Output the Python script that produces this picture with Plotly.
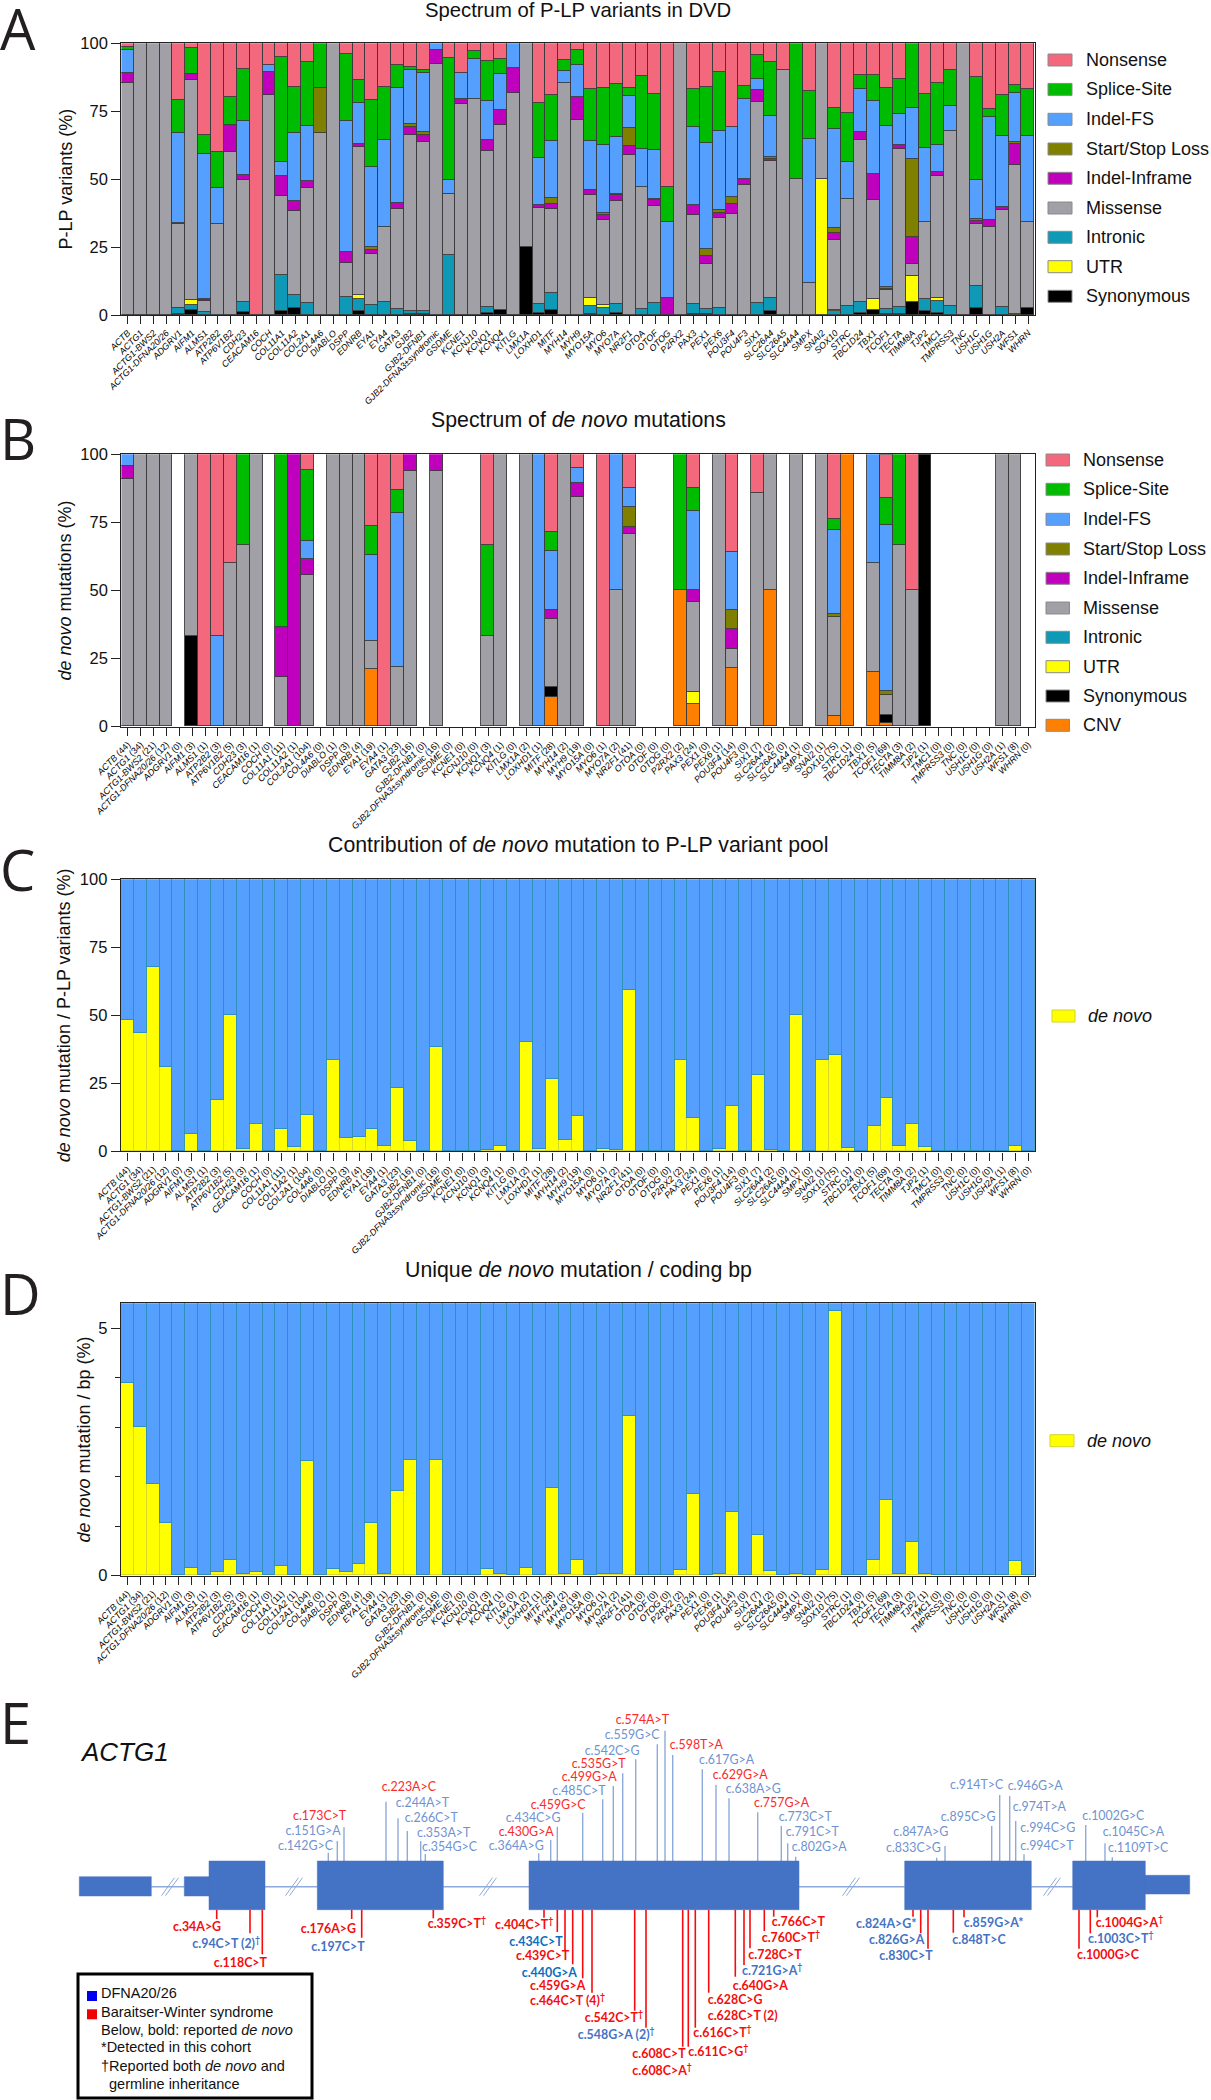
import plotly.graph_objects as go

W, H = 1211, 2100

GENES = ["ACTB","ACTG1","ACTG1-BWS2","ACTG1-DFNA20/26","ADGRV1","AIFM1","ALMS1","ATP2B2","ATP6V1B2","CDH23",
 "CEACAM16","COCH","COL11A1","COL11A2","COL2A1","COL4A6","DIABLO","DSPP","EDNRB","EYA1",
 "EYA4","GATA3","GJB2","GJB2-DFNB1","GJB2-DFNA3±syndromic","GSDME","KCNE1","KCNJ10","KCNQ1","KCNQ4",
 "KITLG","LMX1A","LOXHD1","MITF","MYH14","MYH9","MYO15A","MYO6","MYO7A","NR2F1",
 "OTOA","OTOF","OTOG","P2RX2","PAX3","PEX1","PEX6","POU3F4","POU4F3","SIX1",
 "SLC26A4","SLC26A5","SLC44A4","SMPX","SNAI2","SOX10","STRC","TBC1D24","TBX1","TCOF1",
 "TECTA","TIMM8A","TJP2","TMC1","TMPRSS3","TNC","USH1C","USH1G","USH2A","WFS1","WHRN"]
DN_COUNTS = [44,34,21,12,0,3,1,3,5,3, 1,0,11,1,104,0,1,3,4,19, 1,23,16,0,16,0,0,0,3,1,
 0,2,1,28,2,19,0,1,2,41, 0,0,0,2,24,0,1,14,0,7, 2,0,1,0,1,75,1,0,5,69, 3,2,1,0,0,0,0,0,1,8,0]

# Panel A: share of P-LP variants (%)
A_SYNONYMOUS = [0,0,0,0,.4,1.8,0,0,0,1, 0,0,1.2,2.3,0,0,0,0,1.2,0, 0,0,.3,.3,0,0,0,0,.5,1.8,
 0,25,.5,1.8,0,0,.3,0,.6,0, 0,0,0,0,.3,.3,0,0,0,0, 1.2,0,0,0,0,0,0,.8,1.8,.2, .3,4.5,1.2,.5,0,0,2.5,0,0,0,2.4]
A_INTRONIC = [0,0,0,0,2,1.9,1,0,0,3.6, 0,0,13.4,4.9,4.2,0,0,6.7,4.7,3.4, 4.8,2,.9,1.2,0,22,0,0,2.3,0,
 0,0,3.4,6.1,0,0,3,2.5,3.2,0, 2,4.4,0,0,3.5,1.8,2.5,0,0,4.2, 4.9,0,0,0,0,1.2,3.2,3.9,0,1.9, 2.6,0,4.4,4.5,3.2,0,8.1,0,2.8,0,0]
A_UTR = [0,0,0,0,0,1.8,0,0,0,0, 0,0,0,0,0,0,0,0,1.2,0, 0,0,0,0,0,0,0,0,0,0,
 0,0,0,0,0,0,2.7,.9,0,0, 0,0,0,0,0,0,0,0,0,0, 0,0,0,0,50,.6,0,0,3.8,0, 0,9.6,0,1,0,0,0,0,0,.3,0]
A_MISSENSE = [85.3,100,100,100,31.1,81,4,33.3,60,45.1, 0,81,29.2,30.8,42.5,66.7,100,12.3,54.6,18.8,
 27.3,37,64.9,62.1,92.4,22.4,77.7,79.3,57.3,67.9, 81.7,75,35.5,31,85.3,71.5,38.2,31.3,37.9,58.9,
 44.9,35.6,0,100,33,16.6,33.2,36.9,47.7,74.1, 50.3,90,50,11.7,50,25.8,39.4,59.5,36.5,7.1,
 58.2,4.7,28.6,44.9,64.4,100,22.9,32.1,35.6,54.7,31.8]
A_INFRAME = [3.7,0,0,0,.3,2.2,.3,0,10,1.7, 0,8.2,7.1,3.8,2.5,0,0,4.2,1.2,1.7, 0,2.1,2.9,2.7,5.1,0,1.7,0,4.3,5.8,
 9.1,0,1.1,2,0,8.6,1.6,2,2.3,3.3, 0,2.1,6,0,3.6,2.9,1.8,3.8,2.2,4.3, 1,0,0,0,0,2.4,0,3,9.8,.4,
 1.4,9.7,0,1.7,0,0,1,2.9,1.4,7.8,0]
A_STARTSTOP = [0,0,0,0,0,0,.5,0,0,0, 0,0,0,0,0,16.7,0,0,0,1, 0,0,1.2,1.1,0,0,0,0,0,0,
 0,0,0,1.9,0,0,0,.8,.5,6.5, 0,.6,0,0,0,2.6,.9,2.5,0,0, .6,0,0,0,0,2,0,0,0,.6, 0,28.7,0,0,0,0,.6,0,0,.8,0]
A_FS = [8.5,0,0,0,33,0,53.2,13.2,0,20, 0,2.7,5.3,24.9,20.4,0,0,48,14.9,29.3, 32.3,42.3,19.7,21.6,2.5,5.3,9.6,14.8,14.1,13.1,
 9.2,0,17,21,4.3,11.8,18.1,24.8,21,11.7, 14.2,17.9,28.2,0,28.6,38.9,29.1,25.8,29.5,4.3,
 15,0,0,53,0,36.2,13.5,15.8,26.9,59.2, 11.2,18.9,27.1,9.9,9.1,0,14.3,37.9,26.1,18,31.4]
A_SPLICE = [1,0,0,0,12.2,9.3,7,13.5,10,19.1, 0,0,38.6,17.2,23.4,16.6,0,24.8,8.6,24.7, 19.4,8.5,1.3,1.2,0,44.8,0,2.8,14.8,5.6,
 0,0,20.3,17.1,4.1,5.4,19.1,21.1,19.3,3.2, 26.6,20.5,12.8,0,14,20.6,21.8,0,4.6,8.7,
 20,0,50,17.6,0,7.8,18,5.1,9.4,14.2, 13.2,23.9,20,22.9,13.2,0,38.1,2.8,14.8,2.8,17.3]
A_NONSENSE = [1.5,0,0,0,21,2,34,40,20,9.5, 100,8.1,5.2,16.1,7,0,0,4,13.6,21.1, 16.2,8.1,8.8,9.8,0,5.5,11,3.1,6.7,5.8,
 0,0,22.2,19.1,6.3,2.7,17,16.6,15.2,16.4, 12.3,18.9,53,0,17,16.3,10.7,31,16,4.4,
 7,10,0,17.7,0,24,25.9,11.9,11.8,16.4, 13.1,0,18.7,14.6,10.1,0,12.5,24.3,19.3,15.6,17.1]

# Panel B: share of de novo mutations (%)
B_CNV = [0,0,0,0,0,0,0,0,0,0, 0,0,0,0,0,0,0,0,0,21, 0,0,0,0,0,0,0,0,0,0,
 0,0,0,10.7,0,0,0,0,0,0, 0,0,0,50,8.3,0,0,21.4,0,0, 50,0,0,0,0,4,100,0,20,1.4, 0,0,0,0,0,0,0,0,0,0,0]
B_SYNONYMOUS = [0,0,0,0,0,33.3,0,0,0,0, 0,0,0,0,0,0,0,0,0,0, 0,0,0,0,0,0,0,0,0,0,
 0,0,0,3.6,0,0,0,0,0,0, 0,0,0,0,0,0,0,0,0,0, 0,0,0,0,0,0,0,0,0,2.9, 0,0,100,0,0,0,0,0,0,0,0]
B_INTRONIC = [0] * 71
B_UTR = [0,0,0,0,0,0,0,0,0,0, 0,0,0,0,0,0,0,0,0,0, 0,0,0,0,0,0,0,0,0,0,
 0,0,0,0,0,0,0,0,0,0, 0,0,0,0,4.2,0,0,0,0,0, 0,0,0,0,0,0,0,0,0,0, 0,0,0,0,0,0,0,0,0,0,0]
B_MISSENSE = [90.9,100,100,100,0,66.7,0,0,60,66.7, 100,0,18.2,0,55.6,0,100,100,100,10.5, 0,21.7,93.75,0,93.75,0,0,0,33.3,100,
 0,100,0,25,100,84.2,0,0,50,70.7, 0,0,0,0,33.3,0,100,7.1,0,85.7, 50,0,100,0,100,36,0,0,40,7.2, 66.7,50,0,0,0,0,0,0,100,100,0]
B_INFRAME = [4.55,0,0,0,0,0,0,0,0,0, 0,0,18.2,100,5.8,0,0,0,0,0, 0,0,6.25,0,6.25,0,0,0,0,0,
 0,0,0,3.6,0,5.3,0,0,0,2.4, 0,0,0,0,4.2,0,0,7.1,0,0, 0,0,0,0,0,0,0,0,0,0, 0,0,0,0,0,0,0,0,0,0,0]
B_STARTSTOP = [0,0,0,0,0,0,0,0,0,0, 0,0,0,0,0,0,0,0,0,0, 0,0,0,0,0,0,0,0,0,0,
 0,0,0,0,0,0,0,0,0,7.3, 0,0,0,0,0,0,0,7.1,0,0, 0,0,0,0,0,1.3,0,0,0,1.4, 0,0,0,0,0,0,0,0,0,0,0]
B_FS = [4.55,0,0,0,0,0,0,33.3,0,0, 0,0,0,0,6.5,0,0,0,0,31.6, 0,56.5,0,0,0,0,0,0,0,0,
 0,0,100,21.4,0,5.3,0,0,50,7.3, 0,0,0,0,29.2,0,0,21.4,0,0, 0,0,0,0,0,30.7,0,0,40,60.9, 0,0,0,0,0,0,0,0,0,0,0]
B_SPLICE = [0,0,0,0,0,0,0,0,0,33.3, 0,0,63.6,0,26.1,0,0,0,0,10.5, 0,8.7,0,0,0,0,0,0,33.3,0,
 0,0,0,7.1,0,0,0,0,0,0, 0,0,0,50,8.3,0,0,0,0,0, 0,0,0,0,0,4,0,0,0,10.1, 33.3,0,0,0,0,0,0,0,0,0,0]
B_NONSENSE = [0,0,0,0,0,0,100,66.7,40,0, 0,0,0,0,6,0,0,0,0,26.4, 100,13.1,0,0,0,0,0,0,33.4,0,
 0,0,0,28.6,0,5.2,0,100,0,12.3, 0,0,0,0,12.5,0,0,35.9,0,14.3, 0,0,0,0,0,24,0,0,0,15.9, 0,50,0,0,0,0,0,0,0,0,0]

# Panel C: de novo mutations as a share of the P-LP pool (%)
C_DE_NOVO = [48.3,43.5,67.6,30.8,0,6.1,0,18.75,50,.7, 9.9,0,8.1,1.3,13.2,0,33.3,4.9,5.1,8.1, 1.7,23,3.7,0,38.1,0,0,0,.5,2,
 0,40,.7,26.6,4.2,12.7,0,.7,.2,59.3, 0,0,0,33.3,12.3,0,.6,16.4,0,27.8, .2,0,50,0,33.3,35.4,1.1,0,9.3,19.4, 1.7,9.8,1.3,0,0,0,0,0,0,2,0]
C_TOTAL = 100

# Panel D: unique de novo mutations per coding bp (%)
D_DE_NOVO = [3.89,3.0,1.85,1.05,0,.15,0,.07,.32,.03, .07,0,.2,.01,2.32,0,.12,.07,.24,1.06, .03,1.71,2.34,0,2.34,0,0,0,.135,.03,
 0,.155,.01,1.76,.03,.31,0,.02,.02,3.22, 0,0,0,.115,1.65,0,.02,1.28,0,.81, .08,0,.03,0,.11,5.35,.005,0,.32,1.53, .03,.67,.02,0,0,0,0,0,0,.29,0]
D_YMAX = 5.51

LEGEND_A = ["Nonsense","Splice-Site","Indel-FS","Start/Stop Loss","Indel-Inframe","Missense","Intronic","UTR","Synonymous"]
LEGEND_B = LEGEND_A + ["CNV"]
COLORS = {"Nonsense":"#F3687C","Splice-Site":"#00BC00","Indel-FS":"#559FFF","Start/Stop Loss":"#808000",
          "Indel-Inframe":"#BF00BD","Missense":"#A1A0A6","Intronic":"#0E9AB6","UTR":"#FFFF00",
          "Synonymous":"#000000","CNV":"#FF8000"}
BLUE, TEAL, YELLOW, YEDGE = "#559FFF", "#2A8FB4", "#FFFF00", "#D4D42C"

# Panel E: the ACTG1 gene diagram, in the diagram's own coordinates
UP_LABELS = ["c.142G>C","c.151G>A","c.173C>T","c.223A>C","c.244A>T","c.266C>T","c.353A>T","c.354G>C",
 "c.364A>G","c.430G>A","c.434C>G","c.459G>C","c.485C>T","c.499G>A","c.535G>T","c.542C>G","c.559G>C","c.574A>T",
 "c.598T>A","c.617G>A","c.629G>A","c.638A>G","c.757G>A","c.773C>T","c.791C>T","c.802G>A",
 "c.833C>G","c.847A>G","c.895C>G","c.914T>C","c.946G>A","c.974T>A","c.994C>G","c.994C>T","c.1002G>C","c.1045C>A","c.1109T>C"]
UP_IS_RED = [0,0,1,1,0,0,0,0, 0,1,0,1,0,1,1,0,0,1, 1,0,1,0,1,0,0,0, 0,0,0,0,0,0,0,0,0,0,0]
UP_LABEL_X = [278,285.5,293,381.7,395.7,404.7,417,422, 488.7,498.7,505.7,530.7,552.3,561.7,571.7,584.7,604.7,615.7,
 669.7,699,712.7,725.7,754,778.7,785.7,791.7, 886,893.3,940.7,950,1007.7,1012.7,1020.3,1020.3,1082.3,1102.7,1108]
UP_LABEL_Y = [1847,1832.3,1817,1788.3,1804.3,1819,1833.7,1847.7, 1846.7,1833,1819.3,1805.7,1792,1778.3,1764.7,1751.7,1736.3,1721,
 1746.3,1760.7,1775.7,1790.3,1804.3,1818,1832.7,1848.3, 1848.7,1832.7,1817.7,1786,1786.7,1808.3,1829.3,1846.7,1817.3,1832.7,1848.7]
UP_STEM_X = [328.3,337.3,344,386,398,407.3,420.7,425.3, 538.7,550.7,557.3,582.7,602.7,613.3,622.7,635.7,657.3,665,
 672.7,702.3,716,729,757.7,781.3,787.7,795.7, 936.7,945,991.7,999.7,1009.7,1015.7,1024,1085.7,1105,1112.3]
UP_STEM_END = [1852.7,1841,1827.3,1801.7,1818.3,1831,1841,1854, 1853.3,1840,1826.7,1812.7,1799.3,1786,1773.3,1759.3,1744.3,1730.7,
 1755,1769.3,1785,1798.3,1812.3,1826,1843.3,1856.7, 1857.7,1846,1826,1795,1796,1821,1854.3,1825,1843.3,1857.3]

DOWN_LABELS = ["c.34A>G","c.94C>T (2)<sup>†</sup>","c.118C>T","c.176A>G","c.197C>T","c.359C>T<sup>†</sup>",
 "c.404C>T<sup>†</sup>","c.434C>T","c.439C>T","c.440G>A","c.459G>A","c.464C>T (4)<sup>†</sup>","c.542C>T<sup>†</sup>","c.548G>A (2)<sup>†</sup>",
 "c.608C>T","c.608C>A<sup>†</sup>","c.611C>G<sup>†</sup>","c.616C>T<sup>†</sup>","c.628C>G","c.628C>T (2)","c.640G>A","c.721G>A<sup>†</sup>","c.728C>T","c.760C>T<sup>†</sup>","c.766C>T",
 "c.824A>G*","c.826G>A","c.830C>T","c.848T>C","c.859G>A*","c.1000G>C","c.1003C>T<sup>†</sup>","c.1004G>A<sup>†</sup>"]
# 0 = Baraitser-Winter red, 1 = DFNA20/26 blue, 2 = darker blue
DOWN_TONE = [0,1,0,0,1,0, 0,2,0,2,0,0,0,1, 0,0,0,0,0,0,0,1,0,0,0, 1,1,1,1,1,0,1,0]
DOWN_LABEL_X = [173,192.3,213.7,300.7,311.3,427.7, 495,509.3,516,521.7,530,530,584.7,577.7,
 632.3,632.3,688.3,693.3,707.7,707.7,732.7,742,748.3,761.7,771.7, 856,869,879.3,952.3,963.7,1077,1088,1095.7]
DOWN_LABEL_Y = [1928,1945,1964,1930,1948.3,1925, 1926,1943,1957.3,1973.7,1987.3,2001.7,2019.3,2036.3,
 2054.7,2072,2053.3,2034,2000.7,2017.3,1986.7,1972,1956,1939.3,1922.7, 1924.7,1941,1957.3,1941,1923.7,1956,1940,1923.7]
DOWN_STEM_X = [216.7,250,262.3,351.7,361.7,433.3, 544,557.3,565,572.7,582.7,592,634.7,646,
 682.7,688.3,695.3,708.7,735.3,744,750,764.3,773.7, 913,920.7,928,953.3,964,1079,1090.3,1097.3]
DOWN_STEM_END = [1919,1933.3,1954.3,1919,1937.7,1918.3, 1917.7,1932,1950,1964.3,1978.3,1992.7,2010.7,2027.7,
 2046.7,2046.7,2027.7,1992.7,1976.7,1965,1948.3,1931,1916.7, 1916.7,1933.3,1948.7,1932.7,1917.3,1948.7,1933.3,1917.3]
EXON_X0 = [79.3,184.3,209,317.3,529,904.7,1072.7,1145.3]
EXON_X1 = [151.3,209,265,443.3,799,1031.3,1145.3,1189.7]
EXON_Y0 = [1876.7,1876.7,1861,1861,1861,1861,1861,1875.3]
EXON_Y1 = [1896,1896,1909.7,1909.7,1909.7,1909.7,1909.7,1894]
INTRON_X0 = [151.3,265,443.3,799,1031.3]
INTRON_X1 = [184.3,317.3,529,904.7,1072.7]
BREAK_X = [168,292,486,849,1050]
INTRON_Y = 1886.7

KEY_LINES = ["DFNA20/26","Baraitser-Winter syndrome","Below, bold: reported <i>de novo</i>","*Detected in this cohort",
             "†Reported both <i>de novo</i> and","germline inheritance"]
KEY_Y = [1993.3,2011.7,2029.7,2047.3,2065.7,2083.7]
KEY_X = [100.7,100.7,100.7,100.7,100.7,109]

SANS = "Liberation Sans, Arial, sans-serif"
fig = go.Figure()

def px(x): return x / W
def py(y): return 1 - y / H

PANELS = [  # axis suffix, left, right, top, bottom
    ("", 121.4, 1034.7, 43.3, 315),
    ("2", 121.4, 1034.7, 454.3, 726.7),
    ("3", 120.9, 1034.9, 879.3, 1151.3),
    ("4", 120.9, 1034.5, 1303.3, 1575.7),
]
tick_plain = [f"<i>{g}</i>" for g in GENES]
tick_count = [f"<i>{g}</i> ({n})" for g, n in zip(GENES, DN_COUNTS)]
XPOS = list(range(len(GENES)))

def nz(v): return [a if a else None for a in v]

def stacked(series, colors, suffix):
    for name, vals in series:
        fig.add_trace(go.Bar(x=XPOS, y=nz(vals), name=name, showlegend=False,
                             marker=dict(color=colors[name], line=dict(color="#3C3C3C", width=0.9)),
                             xaxis="x" + suffix, yaxis="y" + suffix, width=1))

stacked([("Synonymous",A_SYNONYMOUS),("Intronic",A_INTRONIC),("UTR",A_UTR),("Missense",A_MISSENSE),("Indel-Inframe",A_INFRAME),
         ("Start/Stop Loss",A_STARTSTOP),("Indel-FS",A_FS),("Splice-Site",A_SPLICE),("Nonsense",A_NONSENSE)], COLORS, "")
stacked([("CNV",B_CNV),("Synonymous",B_SYNONYMOUS),("Intronic",B_INTRONIC),("UTR",B_UTR),("Missense",B_MISSENSE),("Indel-Inframe",B_INFRAME),
         ("Start/Stop Loss",B_STARTSTOP),("Indel-FS",B_FS),("Splice-Site",B_SPLICE),("Nonsense",B_NONSENSE)], COLORS, "2")

def pool(values, total, suffix):
    fig.add_trace(go.Bar(x=XPOS, y=nz(values), name="de novo", showlegend=False, width=1,
                         marker=dict(color=YELLOW, line=dict(color=YEDGE, width=0.9)),
                         xaxis="x" + suffix, yaxis="y" + suffix))
    fig.add_trace(go.Bar(x=XPOS, y=[total - v for v in values], name="other", showlegend=False, width=1,
                         marker=dict(color=BLUE, line=dict(color=TEAL, width=0.9)),
                         xaxis="x" + suffix, yaxis="y" + suffix))
pool(C_DE_NOVO, C_TOTAL, "3")
pool(D_DE_NOVO, D_YMAX, "4")

layout = dict(width=W, height=H, autosize=False, margin=dict(l=0, r=0, t=0, b=0, pad=0, autoexpand=False),
              paper_bgcolor="white", plot_bgcolor="white", barmode="stack", bargap=0,
              font=dict(family=SANS, color="#1A1A1A"), showlegend=False, template="none")

Y_TITLES = ["P-LP variants (%)", "<i>de novo</i> mutations (%)", "<i>de novo</i> mutation / P-LP variants (%)", "<i>de novo</i> mutation / bp (%)"]
STANDOFF = [3, 4, 4, 2]
for (suf, l, r, t, b), ytitle, so in zip(PANELS, Y_TITLES, STANDOFF):
    layout["xaxis" + suf] = dict(domain=[px(l), px(r)], anchor="y" + suf, range=[-0.5, 70.5], automargin=False,
        tickmode="array", tickvals=XPOS, ticktext=tick_plain if suf == "" else tick_count,
        tickangle=-45, tickfont=dict(size=9, color="#000"), ticks="outside", ticklen=8, tickwidth=1,
        tickcolor="#222", showline=True, linecolor="#222", linewidth=1.4, mirror=True, showgrid=False, zeroline=False)
    y = dict(domain=[py(b), py(t)], anchor="x" + suf, showline=True, linecolor="#222", linewidth=1.4, mirror=True, automargin=False,
             ticks="outside", ticklen=9, tickwidth=1.2, tickcolor="#222", tickfont=dict(size=16.5, color="#111"),
             showgrid=False, zeroline=False,
             title=dict(text=ytitle, font=dict(size=18, color="#111"), standoff=so))
    if suf == "4":
        y.update(range=[0, D_YMAX], tickmode="array", tickvals=[0, 5], ticktext=["0", "5"],
                 minor=dict(tickvals=[1, 2, 3, 4], ticks="outside", ticklen=5, tickwidth=1.2, tickcolor="#222"))
    else:
        y.update(range=[0, 100], tickmode="array", tickvals=[0, 25, 50, 75, 100])
    layout["yaxis" + suf] = y

layout["xaxis5"] = dict(domain=[0, 1], range=[0, W], visible=False, anchor="y5", fixedrange=True, automargin=False)
layout["yaxis5"] = dict(domain=[0, 420 / H], range=[H, H - 420], visible=False, anchor="x5", fixedrange=True, automargin=False)

# ---- Panel E marks
STEM_TOP_Y, STEM_BOTTOM_Y = 1861, 1909.7
light = "#8EAADB"
def segs(x0s, y0s, x1s, y1s):
    xs, ys = [], []
    for a, b, c, d in zip(x0s, y0s, x1s, y1s):
        xs += [a, c, None]; ys += [b, d, None]
    return xs, ys

ix0, iy0 = segs(INTRON_X0, [INTRON_Y]*5, INTRON_X1, [INTRON_Y]*5)
e = dict(xaxis="x5", yaxis="y5", showlegend=False, hoverinfo="skip")
fig.add_trace(go.Scatter(x=ix0, y=iy0, mode="lines", line=dict(color=light, width=1.6), name="introns", **e))
bx0 = [x + o - 6.5 for x in BREAK_X for o in (0, 4)]
bx1 = [x + o + 6.5 for x in BREAK_X for o in (0, 4)]
bxs, bys = segs(bx0, [INTRON_Y + 9]*10, bx1, [INTRON_Y - 9]*10)
fig.add_trace(go.Scatter(x=bxs, y=bys, mode="lines", line=dict(color=light, width=1), name="breaks", **e))
uxs, uys = segs(UP_STEM_X, [STEM_TOP_Y]*len(UP_STEM_X), UP_STEM_X, UP_STEM_END)
fig.add_trace(go.Scatter(x=uxs, y=uys, mode="lines", line=dict(color=light, width=1.4), name="reported", **e))
dxs, dys = segs(DOWN_STEM_X, [STEM_BOTTOM_Y]*len(DOWN_STEM_X), DOWN_STEM_X, DOWN_STEM_END)
fig.add_trace(go.Scatter(x=dxs, y=dys, mode="lines", line=dict(color="#FA0A0A", width=1.6), name="de novo reported", **e))
ex, ey = [], []
for a, c, b, d in zip(EXON_X0, EXON_X1, EXON_Y0, EXON_Y1):
    ex += [a, c, c, a, a, None]; ey += [b, b, d, d, b, None]
fig.add_trace(go.Scatter(x=ex, y=ey, mode="lines", fill="toself", fillcolor="#4472C4", line=dict(color="#4472C4", width=0.5), name="exons", **e))
E_FONT = "Lato, Open Sans, sans-serif"
fig.add_trace(go.Scatter(x=UP_LABEL_X, y=UP_LABEL_Y, text=UP_LABELS, mode="text", textposition="middle right",
                         textfont=dict(family=E_FONT, size=12.4, color=["#FA2A2A" if r else "#6F93D1" for r in UP_IS_RED]), name="reported", **e))
TONE = ["#F50C0C", "#4472C4", "#0B6FBE"]
fig.add_trace(go.Scatter(x=DOWN_LABEL_X, y=DOWN_LABEL_Y, text=[f"<b>{t}</b>" for t in DOWN_LABELS], mode="text", textposition="middle right",
                         textfont=dict(family=E_FONT, size=12.4, color=[TONE[t] for t in DOWN_TONE]), name="de novo reported", **e))

# ---- Annotations and legends
ann, shp = [], []
def text(x, y, s, size, anchor="left", family=SANS, color="#111"):
    ann.append(dict(x=px(x), y=py(y), xref="paper", yref="paper", text=s, showarrow=False, xanchor=anchor, yanchor="middle",
                    font=dict(size=size, family=family, color=color), borderpad=0, borderwidth=0))
def box(x0, y0, x1, y1, fill, line="#8A8A8A", lw=1):
    shp.append(dict(type="rect", xref="paper", yref="paper", x0=px(x0), x1=px(x1), y0=py(y0), y1=py(y1),
                    fillcolor=fill, line=dict(color=line, width=lw)))

for s, y in zip(["A", "B", "C", "D", "E"], [28, 438, 869, 1293, 1722]):
    text(0, y, s, 56, family="Open Sans, sans-serif", color="#231F20")
TX = 578
text(TX, 10, "Spectrum of P-LP variants in DVD", 20.3, "center")
text(TX, 420, "Spectrum of <i>de novo</i> mutations", 21.3, "center")
text(TX, 845, "Contribution of <i>de novo</i> mutation to P-LP variant pool", 21.3, "center")
text(TX, 1270, "Unique <i>de novo</i> mutation / coding bp", 21.3, "center")

ROWS_A = [60, 89.4, 119.3, 149, 178.3, 208, 237.3, 266.7, 296.3]
for name, y in zip(LEGEND_A, ROWS_A):
    box(1048, y - 6, 1072, y + 6, COLORS[name])
    text(1085.5, y, name, 18)
ROWS_B = [460, 489.3, 519.3, 549, 578.3, 608, 637.3, 666.7, 696, 725.3]
for name, y in zip(LEGEND_B, ROWS_B):
    box(1046, y - 6, 1069.5, y + 6, COLORS[name])
    text(1083, y, name, 18)
box(1052, 1010, 1075, 1022, YELLOW, YEDGE)
text(1088.4, 1016, "<i>de novo</i>", 18)
box(1050, 1434.7, 1074, 1446.7, YELLOW, YEDGE)
text(1087, 1440.7, "<i>de novo</i>", 18)

text(80, 1752, "<i>ACTG1</i>", 26)
box(78, 1974, 312, 2098, "white", "#000000", 3)
box(87, 1991, 97, 2001, "#0000F0", "#0000F0", 0)
box(87, 2009.3, 97, 2019.3, "#F00000", "#F00000", 0)
for s, x, y in zip(KEY_LINES, KEY_X, KEY_Y):
    text(x, y, s, 14.5)

layout["annotations"] = ann
layout["shapes"] = shp
fig.update_layout(**layout)
fig.write_html("out.html", config={"displayModeBar": False},
               post_script="document.body.style.margin='0';document.body.style.overflow='hidden';")
